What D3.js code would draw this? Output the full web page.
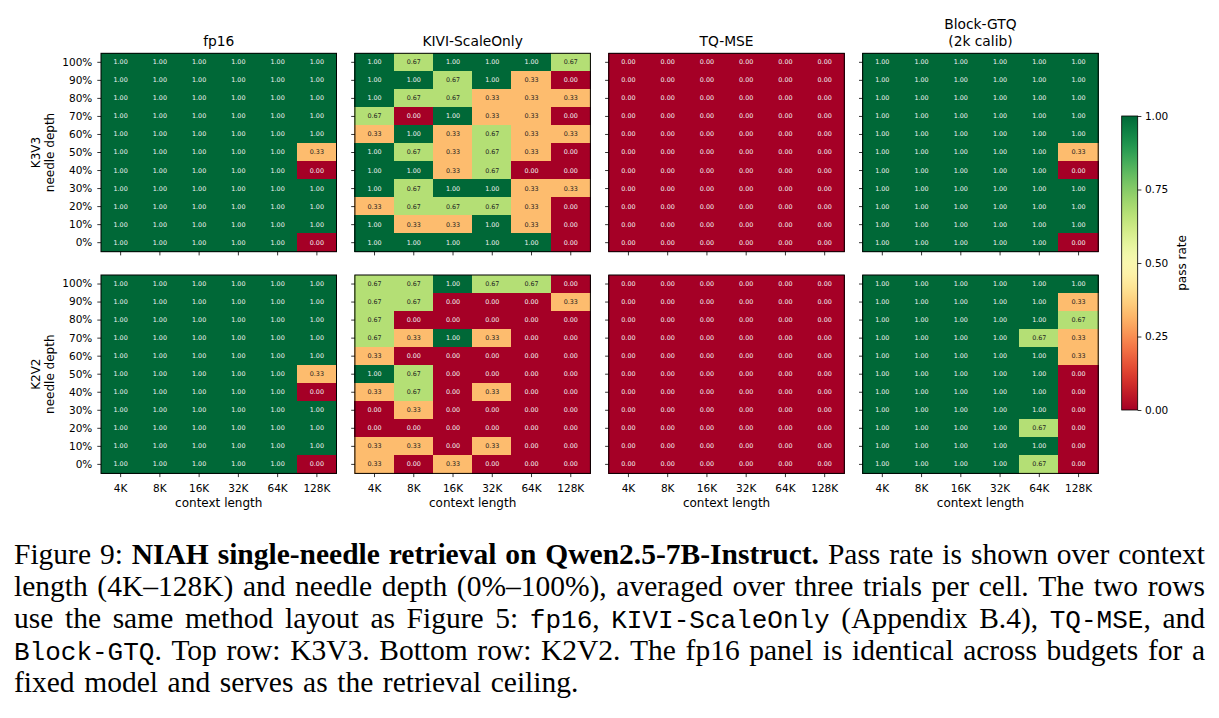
<!DOCTYPE html>
<html>
<head>
<meta charset="utf-8">
<script src="https://cdn.jsdelivr.net/npm/d3@7"></script>
<style>
  html, body { margin: 0; padding: 0; background: #fff; }
  svg { display: block; }
</style>
</head>
<body>
<script>
// x categories and y categories (rows listed top to bottom: 100% ... 0%)
const contextLengths = ['4K', '8K', '16K', '32K', '64K', '128K'];
const depthLabels = ['100%', '90%', '80%', '70%', '60%', '50%', '40%', '30%', '20%', '10%', '0%'];

const methodTitles = [['fp16'], ['KIVI-ScaleOnly'], ['TQ-MSE'], ['Block-GTQ', '(2k calib)']];
const budgets = ['K3V3', 'K2V2'];

// pass rates, one row per needle depth (100% first), one column per context length
const fp16Rates = [
    [1, 1, 1, 1, 1, 1],
    [1, 1, 1, 1, 1, 1],
    [1, 1, 1, 1, 1, 1],
    [1, 1, 1, 1, 1, 1],
    [1, 1, 1, 1, 1, 1],
    [1, 1, 1, 1, 1, 0.33],
    [1, 1, 1, 1, 1, 0],
    [1, 1, 1, 1, 1, 1],
    [1, 1, 1, 1, 1, 1],
    [1, 1, 1, 1, 1, 1],
    [1, 1, 1, 1, 1, 0]
];

const kiviK3V3 = [
    [1, 0.67, 1, 1, 1, 0.67],
    [1, 1, 0.67, 1, 0.33, 0],
    [1, 0.67, 0.67, 0.33, 0.33, 0.33],
    [0.67, 0, 1, 0.33, 0.33, 0],
    [0.33, 1, 0.33, 0.67, 0.33, 0.33],
    [1, 0.67, 0.33, 0.67, 0.33, 0],
    [1, 1, 0.33, 0.67, 0, 0],
    [1, 0.67, 1, 1, 0.33, 0.33],
    [0.33, 0.67, 0.67, 0.67, 0.33, 0],
    [1, 0.33, 0.33, 1, 0.33, 0],
    [1, 1, 1, 1, 1, 0]
];

const kiviK2V2 = [
    [0.67, 0.67, 1, 0.67, 0.67, 0],
    [0.67, 0.67, 0, 0, 0, 0.33],
    [0.67, 0, 0, 0, 0, 0],
    [0.67, 0.33, 1, 0.33, 0, 0],
    [0.33, 0, 0, 0, 0, 0],
    [1, 0.67, 0, 0, 0, 0],
    [0.33, 0.67, 0, 0.33, 0, 0],
    [0, 0.33, 0, 0, 0, 0],
    [0, 0, 0, 0, 0, 0],
    [0.33, 0.33, 0, 0.33, 0, 0],
    [0.33, 0, 0.33, 0, 0, 0]
];

const tqK3V3 = [
    [0, 0, 0, 0, 0, 0],
    [0, 0, 0, 0, 0, 0],
    [0, 0, 0, 0, 0, 0],
    [0, 0, 0, 0, 0, 0],
    [0, 0, 0, 0, 0, 0],
    [0, 0, 0, 0, 0, 0],
    [0, 0, 0, 0, 0, 0],
    [0, 0, 0, 0, 0, 0],
    [0, 0, 0, 0, 0, 0],
    [0, 0, 0, 0, 0, 0],
    [0, 0, 0, 0, 0, 0]
];

const tqK2V2 = [
    [0, 0, 0, 0, 0, 0],
    [0, 0, 0, 0, 0, 0],
    [0, 0, 0, 0, 0, 0],
    [0, 0, 0, 0, 0, 0],
    [0, 0, 0, 0, 0, 0],
    [0, 0, 0, 0, 0, 0],
    [0, 0, 0, 0, 0, 0],
    [0, 0, 0, 0, 0, 0],
    [0, 0, 0, 0, 0, 0],
    [0, 0, 0, 0, 0, 0],
    [0, 0, 0, 0, 0, 0]
];

const gtqK3V3 = [
    [1, 1, 1, 1, 1, 1],
    [1, 1, 1, 1, 1, 1],
    [1, 1, 1, 1, 1, 1],
    [1, 1, 1, 1, 1, 1],
    [1, 1, 1, 1, 1, 1],
    [1, 1, 1, 1, 1, 0.33],
    [1, 1, 1, 1, 1, 0],
    [1, 1, 1, 1, 1, 1],
    [1, 1, 1, 1, 1, 1],
    [1, 1, 1, 1, 1, 1],
    [1, 1, 1, 1, 1, 0]
];

const gtqK2V2 = [
    [1, 1, 1, 1, 1, 1],
    [1, 1, 1, 1, 1, 0.33],
    [1, 1, 1, 1, 1, 0.67],
    [1, 1, 1, 1, 0.67, 0.33],
    [1, 1, 1, 1, 1, 0.33],
    [1, 1, 1, 1, 1, 0],
    [1, 1, 1, 1, 1, 0],
    [1, 1, 1, 1, 1, 0],
    [1, 1, 1, 1, 0.67, 0],
    [1, 1, 1, 1, 1, 0],
    [1, 1, 1, 1, 0.67, 0]
];

const colorbarTicks = [0, 0.25, 0.5, 0.75, 1];

// caption lines: [style, text]  r = roman, b = bold, m = typewriter
const captionLines = [
    [['r', 'Figure 9: '], ['b', 'NIAH single-needle retrieval on Qwen2.5-7B-Instruct.'], ['r', ' Pass rate is shown over context']],
    [['r', 'length (4K\u2013128K) and needle depth (0%\u2013100%), averaged over three trials per cell. The two rows']],
    [['r', 'use the same method layout as Figure 5: '], ['m', 'fp16'], ['r', ', '], ['m', 'KIVI-ScaleOnly'], ['r', ' (Appendix B.4), '], ['m', 'TQ-MSE'], ['r', ', and']],
    [['m', 'Block-GTQ'], ['r', '. Top row: K3V3. Bottom row: K2V2. The fp16 panel is identical across budgets for a']],
    [['r', 'fixed model and serves as the retrieval ceiling.']]
];

const grids = [
    [fp16Rates, kiviK3V3, tqK3V3, gtqK3V3],
    [fp16Rates, kiviK2V2, tqK2V2, gtqK2V2]
];

const width = 1219;
const height = 718;
const font = 'DejaVu Sans, sans-serif';

const panelW = 235.5;
const panelH = 198.4;
const panelLeft0 = 101;
const panelStep = 253.9;
const rowTops = [53.3, 275];

const svg = d3.select('body').append('svg')
    .attr('width', width)
    .attr('height', height)
    .attr('viewBox', [0, 0, width, height]);

svg.append('rect').attr('width', width).attr('height', height).attr('fill', '#fff');

const x = d3.scaleBand().domain(contextLengths).range([0, panelW]);
const y = d3.scaleBand().domain(depthLabels).range([0, panelH]);
const color = d3.scaleSequential(d3.interpolateRdYlGn).domain([0, 1]);

grids.forEach((row, r) => {
    row.forEach((grid, c) => {
        const g = svg.append('g')
            .attr('transform', `translate(${panelLeft0 + c * panelStep},${rowTops[r]})`);

        const cells = grid.flatMap((vals, i) => vals.map((v, j) => ({
            depth: depthLabels[i], ctx: contextLengths[j], v
        })));

        // cells, crisp and stroked in their own colour so neighbours leave no seams
        g.append('g')
            .attr('shape-rendering', 'crispEdges')
            .selectAll('rect')
            .data(cells)
            .join('rect')
            .attr('x', d => x(d.ctx))
            .attr('y', d => y(d.depth))
            .attr('width', x.bandwidth())
            .attr('height', y.bandwidth())
            .attr('fill', d => color(d.v))
            .attr('stroke', d => color(d.v))
            .attr('stroke-width', 1);

        g.append('g').selectAll('text')
            .data(cells)
            .join('text')
            .attr('x', d => x(d.ctx) + x.bandwidth() / 2)
            .attr('y', d => y(d.depth) + y.bandwidth() / 2)
            .attr('text-anchor', 'middle')
            .attr('dominant-baseline', 'central')
            .style('font-family', font)
            .style('font-size', '6.4px')
            .attr('fill', d => (d.v < 0.25 || d.v > 0.75) ? '#f2f2f2' : '#222')
            .text(d => d3.format('.2f')(d.v));

        // y axis
        const yAxis = g.append('g')
            .call(d3.axisLeft(y).tickSize(3.7).tickPadding(5)
                .tickFormat(c === 0 ? d => d : () => ''));
        yAxis.select('.domain').remove();

        // x axis
        const xAxis = g.append('g')
            .attr('transform', `translate(0,${panelH})`)
            .call(d3.axisBottom(x).tickSize(3.7).tickPadding(7.2)
                .tickFormat(r === 1 ? d => d : () => ''));
        xAxis.select('.domain').remove();

        [yAxis, xAxis].forEach(a => {
            a.selectAll('text')
                .style('font-family', font)
                .style('font-size', '10.5px')
                .attr('fill', '#000');
            a.selectAll('line').attr('stroke', '#000').attr('stroke-width', 0.8);
        });

        // frame
        g.append('rect')
            .attr('width', panelW)
            .attr('height', panelH)
            .attr('fill', 'none')
            .attr('stroke', '#000')
            .attr('stroke-width', 1);

        // title
        if (r === 0) {
            const lines = methodTitles[c];
            lines.forEach((t, k) => {
                g.append('text')
                    .attr('x', panelW / 2)
                    .attr('y', -7.8 - (lines.length - 1 - k) * 16.5)
                    .attr('text-anchor', 'middle')
                    .style('font-family', font)
                    .style('font-size', '13.8px')
                    .text(t);
            });
        }

        // x label
        if (r === 1) {
            g.append('text')
                .attr('x', panelW / 2)
                .attr('y', panelH + 33.2)
                .attr('text-anchor', 'middle')
                .style('font-family', font)
                .style('font-size', '12px')
                .text('context length');
        }

        // y label
        if (c === 0) {
            const cy = panelH / 2;
            [[budgets[r], -61.5], ['needle depth', -47.5]].forEach(([t, bx]) => {
                g.append('text')
                    .attr('transform', `translate(${bx},${cy}) rotate(-90)`)
                    .attr('text-anchor', 'middle')
                    .style('font-family', font)
                    .style('font-size', '12px')
                    .text(t);
            });
        }
    });
});

// colorbar
const cbX = 1121.7, cbW = 16, cbTop = 116, cbBottom = 410;
const defs = svg.append('defs');
const grad = defs.append('linearGradient')
    .attr('id', 'cbgrad')
    .attr('x1', 0).attr('y1', 1).attr('x2', 0).attr('y2', 0);
d3.range(0, 1.0001, 0.02).forEach(t => {
    grad.append('stop').attr('offset', t).attr('stop-color', color(t));
});
svg.append('rect')
    .attr('x', cbX).attr('y', cbTop)
    .attr('width', cbW).attr('height', cbBottom - cbTop)
    .attr('fill', 'url(#cbgrad)')
    .attr('stroke', '#000')
    .attr('stroke-width', 0.8);

const cbScale = d3.scaleLinear().domain([0, 1]).range([cbBottom, cbTop]);
const cbAxis = svg.append('g')
    .attr('transform', `translate(${cbX + cbW},0)`)
    .call(d3.axisRight(cbScale).tickValues(colorbarTicks).tickFormat(d3.format('.2f'))
        .tickSize(3.7).tickPadding(3.5));
cbAxis.select('.domain').remove();
cbAxis.selectAll('text')
    .style('font-family', font)
    .style('font-size', '10.5px')
    .attr('fill', '#000');
cbAxis.selectAll('line').attr('stroke', '#000').attr('stroke-width', 0.8);

svg.append('text')
    .attr('transform', `translate(1186,${(cbTop + cbBottom) / 2}) rotate(-90)`)
    .attr('text-anchor', 'middle')
    .style('font-family', font)
    .style('font-size', '12px')
    .text('pass rate');

// caption, justified like the paper
const capLeft = 14, capRight = 1205;
const capBaselines = [564.3, 596, 627.8, 659.8, 692];
const styleOf = {
    r: s => s.style('font-family', 'Liberation Serif, Times New Roman, serif').style('font-size', '29.5px'),
    b: s => s.style('font-family', 'Liberation Serif, Times New Roman, serif').style('font-size', '29.5px').style('font-weight', 'bold'),
    m: s => s.style('font-family', 'Liberation Mono, DejaVu Sans Mono, monospace').style('font-size', '26px')
};
const cap = svg.append('g').attr('fill', '#000');

const spaceProbe = cap.append('text').call(styleOf.r).text('a a');
const aProbe = cap.append('text').call(styleOf.r).text('aa');
const spaceW = spaceProbe.node().getComputedTextLength() - aProbe.node().getComputedTextLength();
spaceProbe.remove();
aProbe.remove();

captionLines.forEach((segs, li) => {
    const words = [[]];
    segs.forEach(([st, txt]) => {
        txt.split(' ').forEach((p, i) => {
            if (i > 0) words.push([]);
            if (p) words[words.length - 1].push([st, p]);
        });
    });
    const ws = words.filter(w => w.length);
    const nodes = ws.map(w => {
        const t = cap.append('text').attr('y', capBaselines[li]);
        w.forEach(([st, p]) => t.append('tspan').call(styleOf[st]).text(p));
        return t;
    });
    const widths = nodes.map(n => n.node().getComputedTextLength());
    const total = d3.sum(widths);
    const last = li === captionLines.length - 1;
    const gap = last ? spaceW * 1.3 : (capRight - capLeft - total) / (ws.length - 1);
    let cx = capLeft;
    nodes.forEach((n, i) => {
        n.attr('x', cx);
        cx += widths[i] + gap;
    });
});
</script>
</body>
</html>
